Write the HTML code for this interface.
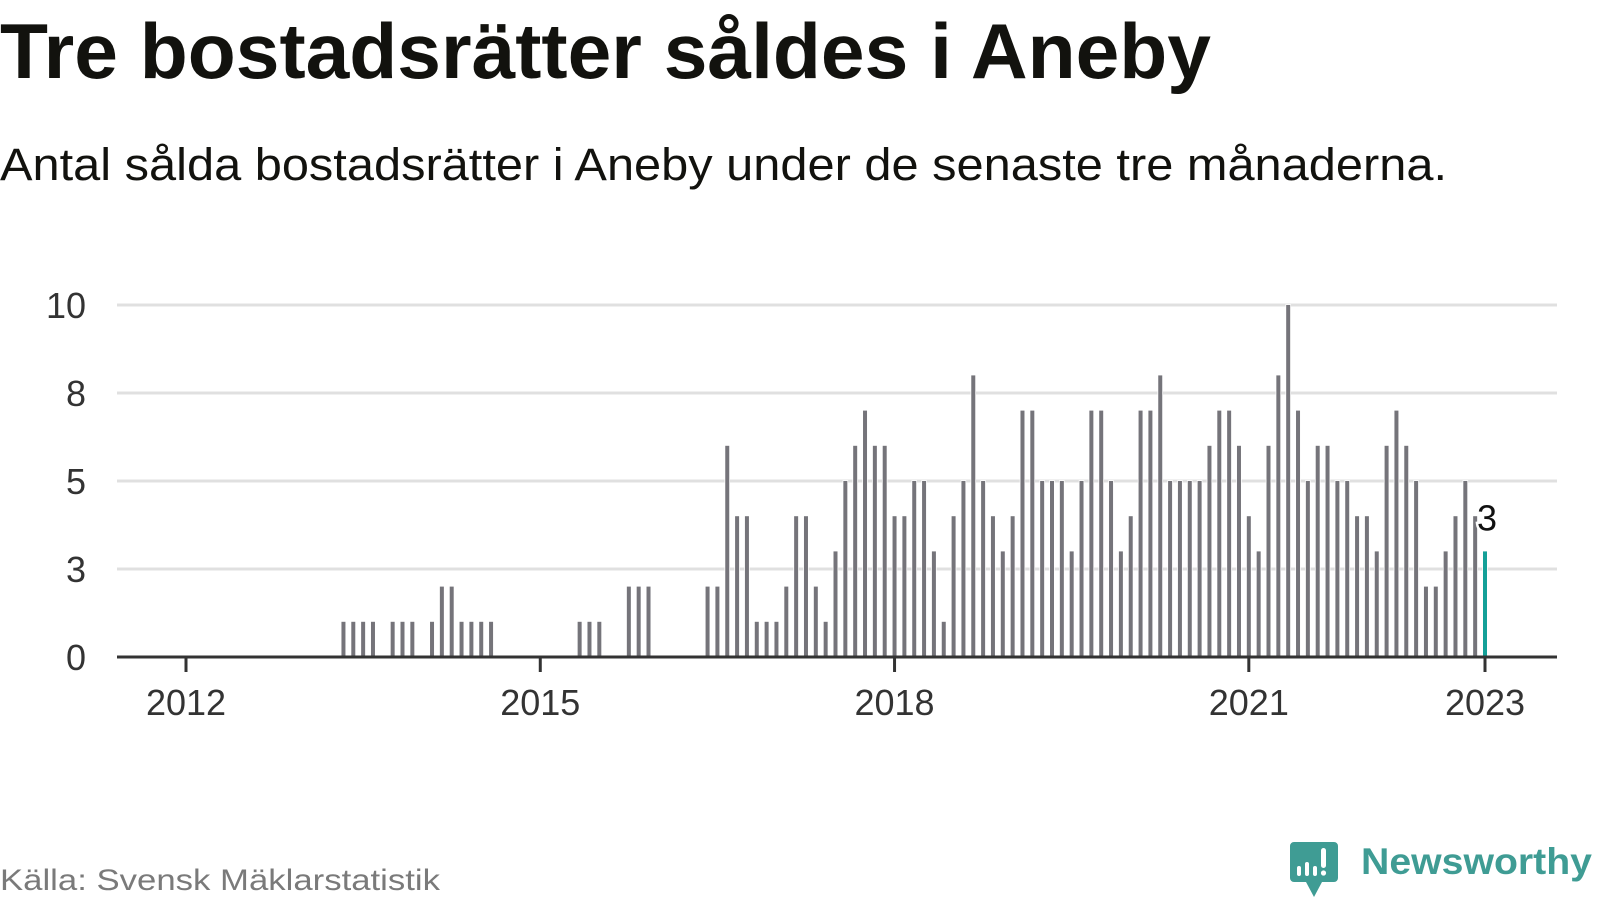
<!DOCTYPE html>
<html><head><meta charset="utf-8">
<style>
html,body{margin:0;padding:0;background:#fff;}
svg{display:block;font-family:"Liberation Sans",sans-serif;}
</style></head>
<body>
<svg id="chart" width="1600" height="900" viewBox="0 0 1600 900">
  <text x="0" y="78" font-size="78" font-weight="bold" fill="#12120e" textLength="1211" lengthAdjust="spacingAndGlyphs">Tre bostadsrätter såldes i Aneby</text>
  <text x="0" y="180" font-size="45" fill="#12120e" textLength="1447" lengthAdjust="spacingAndGlyphs">Antal sålda bostadsrätter i Aneby under de senaste tre månaderna.</text>
  <g id="grid"></g>
  <g id="bars"></g>
  <g id="axes"></g>
  <text x="0" y="890" font-size="30" fill="#7a7a7a" textLength="440" lengthAdjust="spacingAndGlyphs">Källa: Svensk Mäklarstatistik</text>
  <g>
    <path d="M1294 842 H1334 a4 4 0 0 1 4 4 V878 a4 4 0 0 1 -4 4 H1322 L1314 897 L1306 882 H1294 a4 4 0 0 1 -4 -4 V846 a4 4 0 0 1 4 -4 Z" fill="#3f9c94"/>
    <rect x="1297" y="866" width="4" height="10" rx="2" fill="#fff"/>
    <rect x="1305" y="862" width="4" height="14" rx="2" fill="#fff"/>
    <rect x="1313" y="866" width="4" height="10" rx="2" fill="#fff"/>
    <rect x="1321" y="848" width="5" height="20" rx="2.5" fill="#fff"/>
    <circle cx="1323.5" cy="873" r="2.6" fill="#fff"/>
    <text x="1361" y="874" font-size="37" font-weight="bold" fill="#3f9c94" textLength="231" lengthAdjust="spacingAndGlyphs">Newsworthy</text>
  </g>
</svg>
<script>
const values = [0,0,0,0,0,0,0,0,0,0,0,0,
 0,0,0,0,1,1,1,1,0,1,1,1,
 0,1,2,2,1,1,1,1,0,0,0,0,
 0,0,0,0,1,1,1,0,0,2,2,2,
 0,0,0,0,0,2,2,6,4,4,1,1,
 1,2,4,4,2,1,3,5,6,7,6,6,
 4,4,5,5,3,1,4,5,8,5,4,3,
 4,7,7,5,5,5,3,5,7,7,5,3,
 4,7,7,8,5,5,5,5,6,7,7,6,
 4,3,6,8,10,7,5,6,6,5,5,4,
 4,3,6,7,6,5,2,2,3,4,5,4,
 3];
const yTicks = [0,2.5,5,7.5,10];
const yTickLabels = ["0","3","5","8","10"];
const xTickMonths = [0,36,72,108,132];
const xTickLabels = ["2012","2015","2018","2021","2023"];
const lastLabel = "3";

const NS="http://www.w3.org/2000/svg";
const X0=186, MW=(1485-186)/132, Y0=657, UNIT=35.2;
const xs=i=>X0+i*MW, ys=v=>Y0-v*UNIT;
function mk(tag,attrs,parent){const e=document.createElementNS(NS,tag);for(const k in attrs)e.setAttribute(k,attrs[k]);parent.appendChild(e);return e;}
const grid=document.getElementById('grid'), bars=document.getElementById('bars'), axes=document.getElementById('axes');
yTicks.forEach((t,k)=>{
  if(t>0){const l=mk('line',{x1:117,x2:1557,y1:ys(t),y2:ys(t),stroke:'#e0e0e0','stroke-width':3},grid);
  
  }
  const tx=mk('text',{x:86,y:ys(t)+13,'text-anchor':'end','font-size':36,fill:'#333'},axes);
  tx.textContent=yTickLabels[k];
  
  
});
values.forEach((v,i)=>{
  if(v<=0)return;
  const last=i===values.length-1;
  const r=mk('rect',{x:xs(i)-2,y:ys(v),width:4,height:v*UNIT,fill:last?'#14a098':'#75747a',stroke:'#fff','stroke-width':1.5,'paint-order':'stroke'},bars);
  
  
});
const ax=mk('line',{x1:117,x2:1557,y1:Y0,y2:Y0,stroke:'#333','stroke-width':3},axes);


xTickMonths.forEach((m,k)=>{
  const tk=mk('line',{x1:xs(m),x2:xs(m),y1:Y0,y2:Y0+15,stroke:'#333','stroke-width':3},axes);
  
  
  const tx=mk('text',{x:xs(m),y:715,'text-anchor':'middle','font-size':36,fill:'#333'},axes);
  tx.textContent=xTickLabels[k];
  
  
});
const li=values.length-1;
const lab=mk('text',{x:xs(li)+2,y:ys(values[li])-21,'text-anchor':'middle','font-size':36,fill:'#111',stroke:'#fff','stroke-width':5,'paint-order':'stroke'},axes);
lab.textContent=lastLabel;


</script>
</body></html>
